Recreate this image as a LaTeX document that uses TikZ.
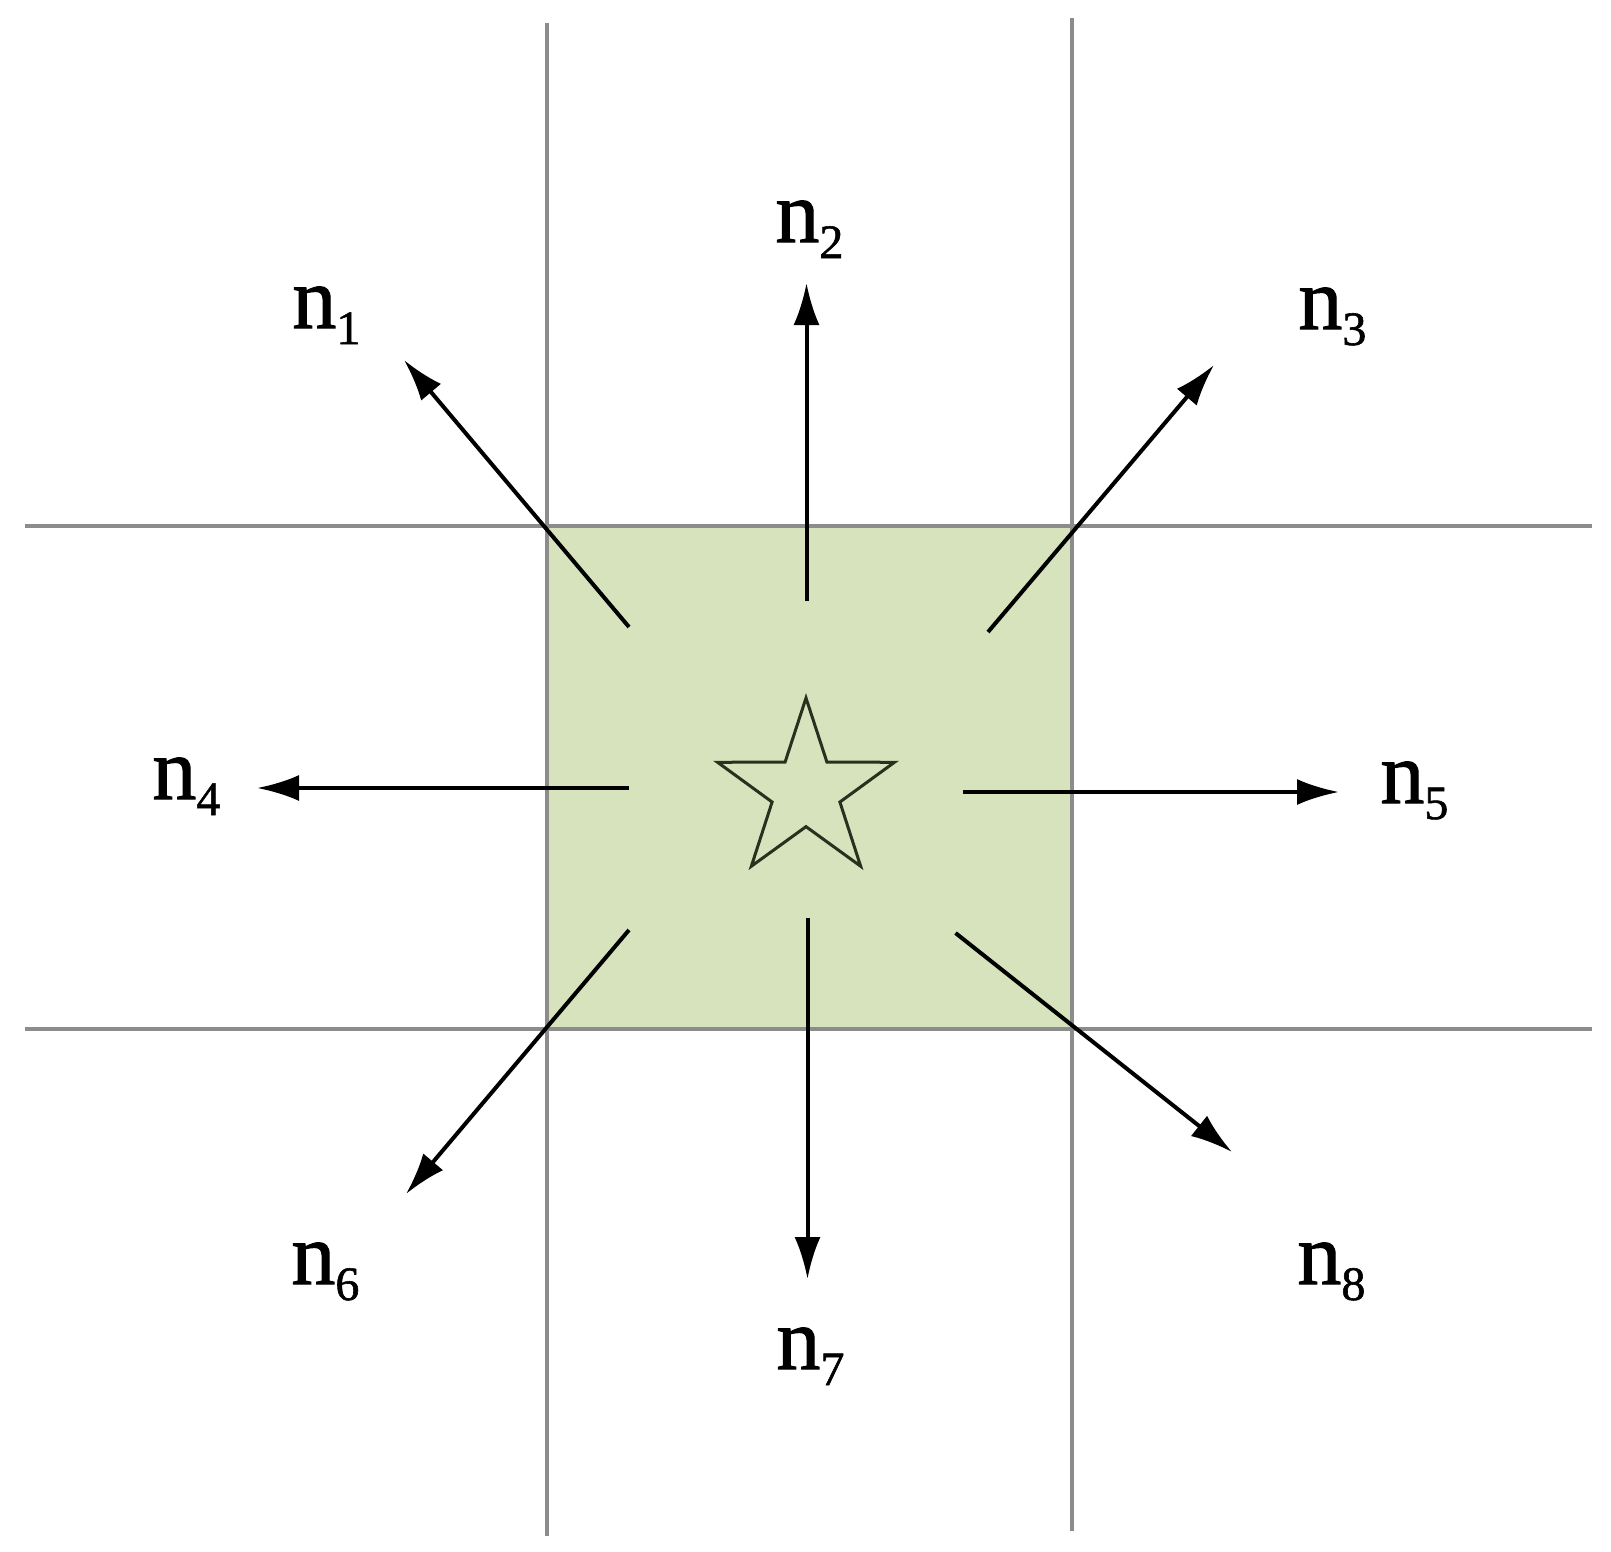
\documentclass[tikz,border=0pt]{standalone}
\usepackage{fontspec}
\setmainfont{Liberation Serif}
\newfontfamily\lblfont{Liberation Serif}[FakeBold=1.2]
\usetikzlibrary{arrows.meta,shapes.geometric}
\definecolor{cellgreen}{RGB}{215,227,189}
\definecolor{gridgray}{RGB}{140,140,140}
\definecolor{starline}{RGB}{40,48,30}
\newcommand\nlab[1]{n\raisebox{-8pt}{\fontsize{24}{24}\selectfont #1}}
\begin{document}
\begin{tikzpicture}[x=0.5pt,y=-0.5pt,
  gridline/.style={draw=gridgray,line width=1.8pt},
  dirarrow/.style={draw=black,line width=2pt,-{Latex[length=21pt,width=13pt]}},
  lbl/.style={anchor=base west,inner sep=0pt,font=\lblfont\fontsize{44}{48}\selectfont}]
\useasboundingbox (0,0) rectangle (1611,1552);
% centre cell
\fill[cellgreen] (547,526) rectangle (1072,1029);
% grid lines
\draw[gridline] (547,23) -- (547,1536);
\draw[gridline] (1072,18) -- (1072,1531);
\draw[gridline] (25,526) -- (1592,526);
\draw[gridline] (25,1029) -- (1592,1029);
% star
\node[star,star points=5,star point ratio=2.61,minimum size=93pt,inner sep=0pt,
      draw=starline,line width=1.5pt,fill=cellgreen] (s) at (806,791) {};
% arrow ends
\coordinate (t1) at (629,627);   \coordinate (h1) at (404,360);
\coordinate (t2) at (806.5,601); \coordinate (h2) at (806.5,283);
\coordinate (t3) at (988,632);   \coordinate (h3) at (1214,365);
\coordinate (t4) at (629,788);   \coordinate (h4) at (257,788);
\coordinate (t5) at (963,792);   \coordinate (h5) at (1339,792);
\coordinate (t6) at (629,930);   \coordinate (h6) at (406,1194);
\coordinate (t7) at (807.5,918); \coordinate (h7) at (807.5,1279);
\coordinate (t8) at (955.5,933); \coordinate (h8) at (1232,1152);
\foreach \i in {1,...,8} {\draw[dirarrow] (t\i) -- (h\i);}
% labels
\node[lbl] (n1) at (292,328) {\nlab{1}};
\node[lbl] (n2) at (775,242) {\nlab{2}};
\node[lbl] (n3) at (1298,329) {\nlab{3}};
\node[lbl] (n4) at (152,799) {\nlab{4}};
\node[lbl] (n5) at (1380,803) {\nlab{5}};
\node[lbl] (n6) at (291,1284) {\nlab{6}};
\node[lbl] (n7) at (776,1369) {\nlab{7}};
\node[lbl] (n8) at (1297,1284) {\nlab{8}};
\end{tikzpicture}
\end{document}
